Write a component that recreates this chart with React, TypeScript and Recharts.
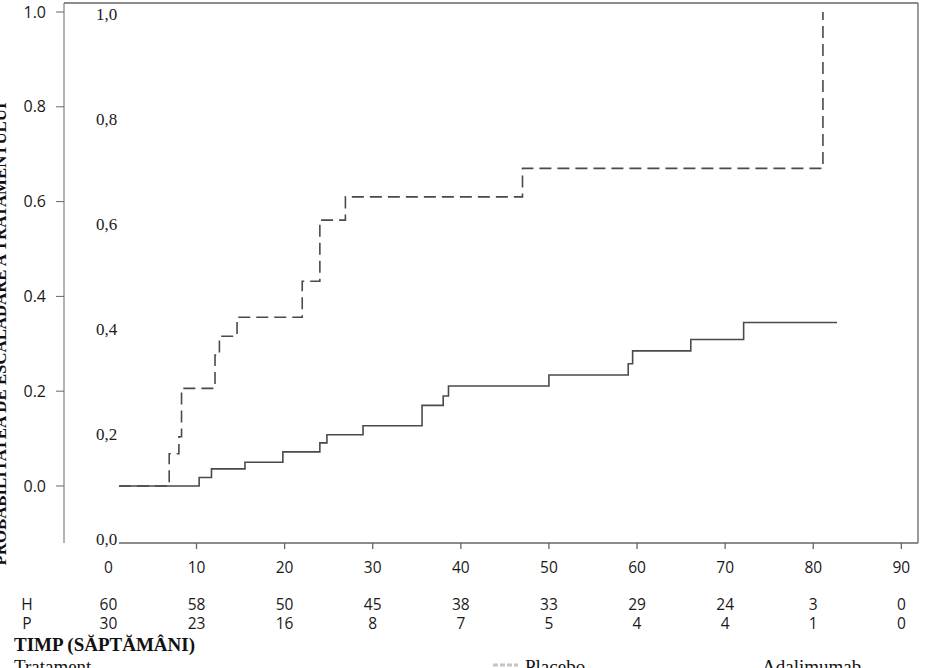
import React from "react";
import { LineChart, Line, XAxis, YAxis, ReferenceLine } from "recharts";

// time axis and the at-risk table under it
const weeks = [0, 10, 20, 30, 40, 50, 60, 70, 80, 90];
const atRiskH = [60, 58, 50, 45, 38, 33, 29, 24, 3, 0];
const atRiskP = [30, 23, 16, 8, 7, 5, 4, 4, 1, 0];

const probTicks = [0, 0.2, 0.4, 0.6, 0.8, 1.0];

// cumulative probability, step curves (week, probability)
const adaWeeks = [1.2, 10.3, 11.7, 15.5, 19.8, 24.0, 24.8, 28.9, 35.6, 38.0, 38.6, 50.0, 59.0, 59.5, 66.1, 72.1, 82.7];
const adaProb = [0, 0.018, 0.036, 0.05, 0.072, 0.091, 0.108, 0.127, 0.17, 0.19, 0.211, 0.234, 0.258, 0.285, 0.309, 0.345, 0.345];

const placeboWeeks = [1.2, 6.9, 8.0, 8.3, 12.1, 12.6, 14.6, 22.0, 24.0, 26.9, 47.0, 81.1];
const placeboProb = [0, 0.068, 0.104, 0.206, 0.276, 0.316, 0.356, 0.432, 0.561, 0.61, 0.67, 1.0];

const adaData = adaWeeks.map((t, i) => ({ t, p: adaProb[i] }));
const placeboData = placeboWeeks.map((t, i) => ({ t, p: placeboProb[i] }));

const W = 928;
const H = 668;
const MARGIN = { top: 3, right: 10, bottom: 0, left: 0 };
const Y_AXIS_W = 63;
const X_AXIS_H = 125;
const PLOT_BOTTOM = H - MARGIN.bottom - X_AXIS_H;

const X_MIN = -5.04;
const X_MAX = 91.89;
const Y_MIN = -0.1203;
const Y_MAX = 1.019;
const INNER_MIN = -0.0067;
const INNER_MAX = 1.022;

const SANS = "'Open Sans', 'DejaVu Sans', sans-serif";
const SERIF = "'Liberation Serif', 'Times New Roman', serif";
const INK = "#1a1a1a";
const FRAME = "#666";
const CURVE = "#4a4a4a";

const WeekTick = (props: any) => {
  const { x, payload } = props;
  const i = weeks.indexOf(payload.value);
  return (
    <g>
      {payload.value !== 0 && (
        <line x1={x} x2={x} y1={PLOT_BOTTOM} y2={PLOT_BOTTOM + 6} stroke={FRAME} strokeWidth={1.3} />
      )}
      <text x={x} y={568} dy="0.35em" textAnchor="middle" fontFamily={SANS} fontSize={15.5} fill={INK}>
        {payload.value}
      </text>
      <text x={x} y={605} dy="0.35em" textAnchor="middle" fontFamily={SANS} fontSize={15.5} fill={INK}>
        {atRiskH[i]}
      </text>
      <text x={x} y={624} dy="0.35em" textAnchor="middle" fontFamily={SANS} fontSize={15.5} fill={INK}>
        {atRiskP[i]}
      </text>
    </g>
  );
};

// second scale printed inside the frame, comma decimals
const InnerTick = (props: any) => {
  const { y, payload } = props;
  return (
    <text x={96} y={y} dy="0.33em" textAnchor="start" fontFamily={SERIF} fontSize={17} fill={INK}>
      {Number(payload.value).toFixed(1).replace(".", ",")}
    </text>
  );
};

export default function App() {
  return (
    <div style={{ position: "absolute", left: 0, top: 0, width: W, height: H, overflow: "hidden", background: "#fff" }}>
      <svg width={W} height={H} style={{ position: "absolute", left: 0, top: 0 }}>
        <text
          transform="translate(6,334) rotate(-90)"
          textAnchor="middle"
          fontFamily={SERIF}
          fontWeight="bold"
          fontSize={16.8}
          fill="#111"
        >
          PROBABILITATEA DE ESCALADARE A TRATAMENTULUI
        </text>
        <text x={27} y={605} dy="0.35em" textAnchor="middle" fontFamily={SANS} fontSize={15.5} fill={INK}>H</text>
        <text x={27} y={624} dy="0.35em" textAnchor="middle" fontFamily={SANS} fontSize={15.5} fill={INK}>P</text>
        <text x={14} y={651} fontFamily={SERIF} fontWeight="bold" fontSize={19} fill="#111">
          TIMP (SĂPTĂMÂNI)
        </text>
        <text x={14} y={673} fontFamily={SERIF} fontSize={19} fill="#111">Tratament</text>
        <line x1={493} x2={518} y1={665} y2={665} stroke="#c4c4c4" strokeWidth={3} strokeDasharray="5 2" />
        <text x={525} y={673} fontFamily={SERIF} fontSize={19} fill="#111">Placebo</text>
        <text x={762} y={673} fontFamily={SERIF} fontSize={19} fill="#111">Adalimumab</text>
      </svg>
      <div style={{ position: "absolute", left: 0, top: 0 }}>
        <LineChart width={W} height={H} margin={MARGIN}>
          <XAxis
            dataKey="t"
            type="number"
            domain={[X_MIN, X_MAX]}
            allowDataOverflow
            ticks={weeks}
            interval={0}
            height={X_AXIS_H}
            axisLine={false}
            tickLine={false}
            tick={<WeekTick />}
          />
          <YAxis
            type="number"
            domain={[Y_MIN, Y_MAX]}
            allowDataOverflow
            ticks={probTicks}
            interval={0}
            width={Y_AXIS_W}
            stroke={FRAME}
            tickSize={8}
            tickMargin={10}
            tickFormatter={(v: number) => v.toFixed(1)}
            tick={{ fontFamily: SANS, fontSize: 16, fill: INK }}
          />
          <YAxis
            yAxisId="inner"
            type="number"
            domain={[INNER_MIN, INNER_MAX]}
            allowDataOverflow
            ticks={probTicks}
            interval={0}
            width={1}
            axisLine={false}
            tickLine={false}
            tick={<InnerTick />}
          />
          <ReferenceLine y={Y_MAX} stroke={FRAME} strokeWidth={1.3} />
          <ReferenceLine x={X_MAX} stroke={FRAME} strokeWidth={1.3} />
          <ReferenceLine
            segment={[{ x: 1.2, y: Y_MIN }, { x: X_MAX, y: Y_MIN }]}
            stroke={FRAME}
            strokeWidth={1.3}
            ifOverflow="visible"
          />
          <Line
            data={placeboData}
            dataKey="p"
            type="stepAfter"
            stroke={CURVE}
            strokeWidth={1.6}
            strokeDasharray="12 6"
            dot={false}
            isAnimationActive={false}
          />
          <Line
            data={adaData}
            dataKey="p"
            type="stepAfter"
            stroke={CURVE}
            strokeWidth={1.6}
            dot={false}
            isAnimationActive={false}
          />
        </LineChart>
      </div>
    </div>
  );
}
